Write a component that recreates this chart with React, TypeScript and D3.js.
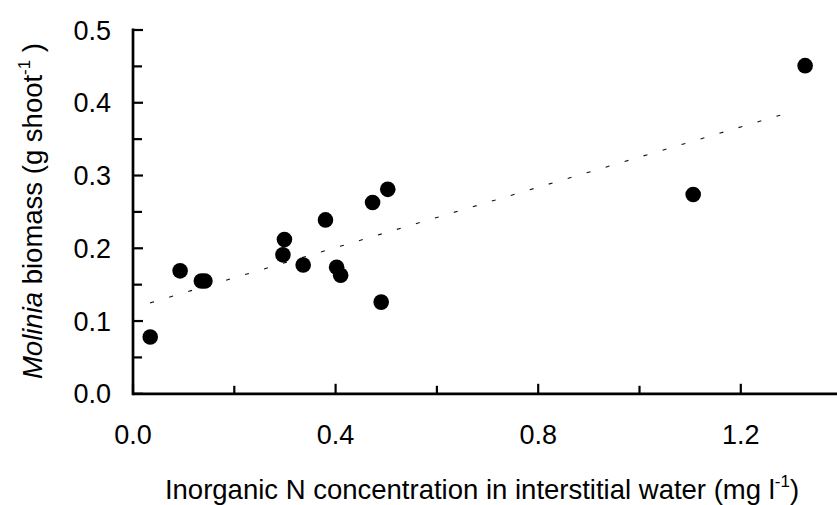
import React from "react";
import * as d3 from "d3";

const nConc = [0.034, 0.093, 0.135, 0.142, 0.296, 0.299, 0.336, 0.38, 0.402, 0.41, 0.473, 0.49, 0.503, 1.106, 1.327];
const biomass = [0.078, 0.169, 0.155, 0.155, 0.191, 0.212, 0.177, 0.239, 0.174, 0.163, 0.263, 0.126, 0.281, 0.274, 0.451];
const trendX = [0.034, 1.307];
const trendY = [0.125, 0.389];
const xMajorTicks = [0, 0.4, 0.8, 1.2];
const xMinorTicks = [0.2, 0.6, 1.0];
const yMajorTicks = [0, 0.1, 0.2, 0.3, 0.4, 0.5];
const yMinorTicks = [0.05, 0.15, 0.25, 0.35, 0.45];

const W = 837;
const H = 505;
const FONT = "'Liberation Sans', Arial, sans-serif";

export default function App() {
  const x = d3.scaleLinear().domain([0, 1.4]).range([133, 842.1]);
  const y = d3.scaleLinear().domain([0, 0.5]).range([393.8, 30]);
  const line = d3
    .line<number>()
    .x((d) => x(trendX[d]))
    .y((d) => y(trendY[d]));
  const fmt = d3.format(".1f");

  return (
    <svg width={W} height={H} style={{ position: "absolute", left: 0, top: 0, background: "#fff" }}>
      <rect width={W} height={H} fill="#fff" />
      {/* trend line */}
      <path d={line([0, 1]) || ""} fill="none" stroke="#111" strokeWidth={1.1} strokeDasharray="4 15.8" />
      {/* points */}
      {nConc.map((v, i) => (
        <circle key={i} cx={x(v)} cy={y(biomass[i])} r={7.8} fill="#000" />
      ))}
      {/* axes */}
      <line x1={x(0)} x2={W} y1={y(0)} y2={y(0)} stroke="#000" strokeWidth={2.7} />
      <line x1={x(0)} x2={x(0)} y1={y(0) + 1.35} y2={y(0.5) - 1.5} stroke="#000" strokeWidth={2.7} />
      {xMajorTicks.map((t) => (
        <g key={"xm" + t}>
          <line x1={x(t)} x2={x(t)} y1={y(0)} y2={y(0) - 10} stroke="#000" strokeWidth={2.2} />
          <text x={x(t)} y={443.5} textAnchor="middle" fontFamily={FONT} fontSize={27} fill="#000">
            {fmt(t)}
          </text>
        </g>
      ))}
      {xMinorTicks.map((t) => (
        <line key={"xn" + t} x1={x(t)} x2={x(t)} y1={y(0)} y2={y(0) - 8} stroke="#000" strokeWidth={2.2} />
      ))}
      {yMajorTicks.map((t) => (
        <g key={"ym" + t}>
          <line x1={x(0)} x2={x(0) + 10} y1={y(t)} y2={y(t)} stroke="#000" strokeWidth={2.2} />
          <text x={111} y={y(t) + 9.6} textAnchor="end" fontFamily={FONT} fontSize={27} fill="#000">
            {fmt(t)}
          </text>
        </g>
      ))}
      {yMinorTicks.map((t) => (
        <line key={"yn" + t} x1={x(0)} x2={x(0) + 9} y1={y(t)} y2={y(t)} stroke="#000" strokeWidth={2.2} />
      ))}
      {/* x title */}
      <text x={482} y={499} textAnchor="middle" fontFamily={FONT} fontSize={27.5} fill="#000">
        Inorganic N concentration in interstitial water (mg l
        <tspan fontSize={17} dy={-12}>-1</tspan>
        <tspan dy={12}>)</tspan>
      </text>
      {/* y title */}
      <text
        transform={`translate(42,211) rotate(-90)`}
        textAnchor="middle"
        fontFamily={FONT}
        fontSize={27.5}
        fill="#000"
      >
        <tspan fontStyle="italic">Molinia</tspan> biomass (g shoot
        <tspan fontSize={17} dy={-12}>-1</tspan>
        <tspan dy={12}> )</tspan>
      </text>
    </svg>
  );
}
